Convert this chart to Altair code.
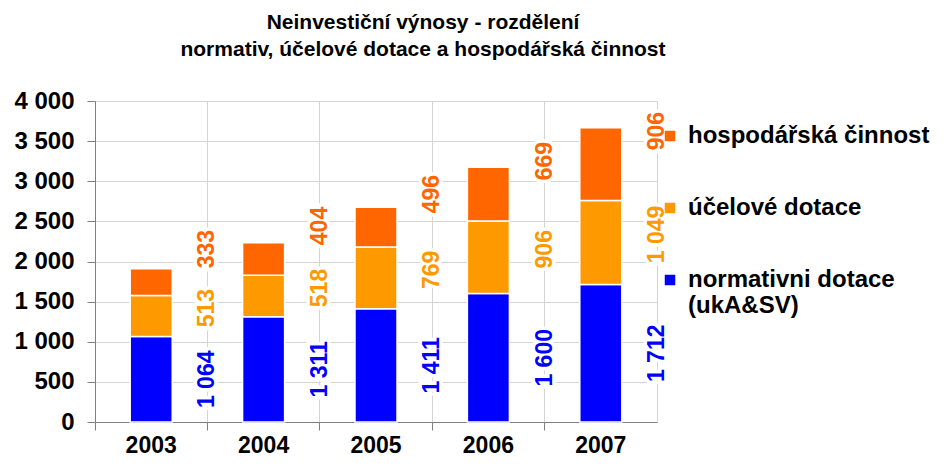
import altair as alt
import pandas as pd

years = ["2003", "2004", "2005", "2006", "2007"]
normativ = [1064, 1311, 1411, 1600, 1712]
ucelove = [513, 518, 769, 906, 1049]
hospodarska = [333, 404, 496, 669, 906]
series_names = ["normativni dotace (ukA&SV)", "účelové dotace", "hospodářská činnost"]
series_colors = ["#0000FF", "#FF9900", "#FF6600"]
y_ticks = [0, 500, 1000, 1500, 2000, 2500, 3000, 3500, 4000]
title_lines = ["Neinvestiční výnosy - rozdělení", "normativ, účelové dotace a hospodářská činnost"]

FONT = "Liberation Sans"

rows = []
for i, yr in enumerate(years):
    base = 0
    for k, vals in enumerate([normativ, ucelove, hospodarska]):
        v = vals[i]
        rows.append(dict(year=yr, series=series_names[k], k=k, value=v,
                         y0=base, y1=base + v, mid=base + v / 2,
                         label=f"{v:,}".replace(",", " "),
                         color=series_colors[k]))
        base += v
df = pd.DataFrame(rows)

legend_domain = series_names[::-1]
legend_range = series_colors[::-1]

xenc = alt.X("year:N", sort=years, title=None,
             scale=alt.Scale(paddingInner=0, paddingOuter=0),
             axis=alt.Axis(labelAngle=0, bandPosition=0, grid=True, gridColor="#d4d4d4",
                           tickSize=8, tickColor="#808080", domainColor="#808080",
                           labelFont=FONT, labelFontSize=23, labelFontWeight="bold",
                           labelColor="black", labelPadding=4))

base = alt.Chart(df)

bars = base.mark_bar(width=alt.RelativeBandSize(0.374), stroke="white", strokeWidth=1.5).encode(
    x=xenc,
    y=alt.Y("y0:Q", title=None,
            scale=alt.Scale(domain=[0, 4000], nice=False),
            axis=alt.Axis(values=y_ticks, grid=True, gridColor="#d4d4d4",
                          tickSize=8, tickColor="#808080", domainColor="#808080",
                          labelFont=FONT, labelFontSize=24, labelFontWeight="bold",
                          labelColor="black", labelPadding=13,
                          labelExpr="replace(format(datum.value, ','), ',', ' ')")),
    y2="y1:Q",
    color=alt.Color("series:N",
                    scale=alt.Scale(domain=legend_domain, range=legend_range),
                    legend=alt.Legend(title=None, orient="none", legendX=563, legendY=23,
                                      symbolType="square", symbolSize=110,
                                      symbolStrokeWidth=0,
                                      labelFont=FONT, labelFontSize=24, labelFontWeight="bold",
                                      labelColor="black", labelOffset=6, labelLimit=400,
                                      rowPadding=48,
                                      labelExpr="datum.label == 'normativni dotace (ukA&SV)' ? ['normativni dotace', '(ukA&SV)'] : datum.label")),
)

label_dx = {0: 0, 1: 8, 2: 33}
halos = []
texts = []
for k in range(3):
    sub = base.transform_filter(alt.datum.k == k)
    enc = dict(x=alt.X("year:N", sort=years, bandPosition=1), y=alt.Y("mid:Q"), text="label:N")
    halos.append(sub.mark_text(angle=270, align="center", baseline="middle", dx=label_dx[k],
                               font=FONT, fontSize=23, fontWeight="bold",
                               fill="white", stroke="white", strokeWidth=7).encode(**enc))
    texts.append(sub.mark_text(angle=270, align="center", baseline="middle", dx=label_dx[k],
                               font=FONT, fontSize=23, fontWeight="bold").encode(
        color=alt.Color("color:N", scale=None), **enc))

chart = alt.layer(bars, *halos, *texts).properties(
    width=562, height=321,
    autosize=alt.AutoSizeParams(type="none"),
    padding={"left": 87, "top": 93, "right": 279, "bottom": 38},
    title=alt.TitleParams(text=title_lines, font=FONT, fontSize=21, fontWeight="bold",
                          color="black", anchor="middle", dx=47, offset=29, lineHeight=27),
).configure_view(stroke="#d4d4d4")

chart.save("out.html", embed_options={"renderer": "svg", "actions": False})
